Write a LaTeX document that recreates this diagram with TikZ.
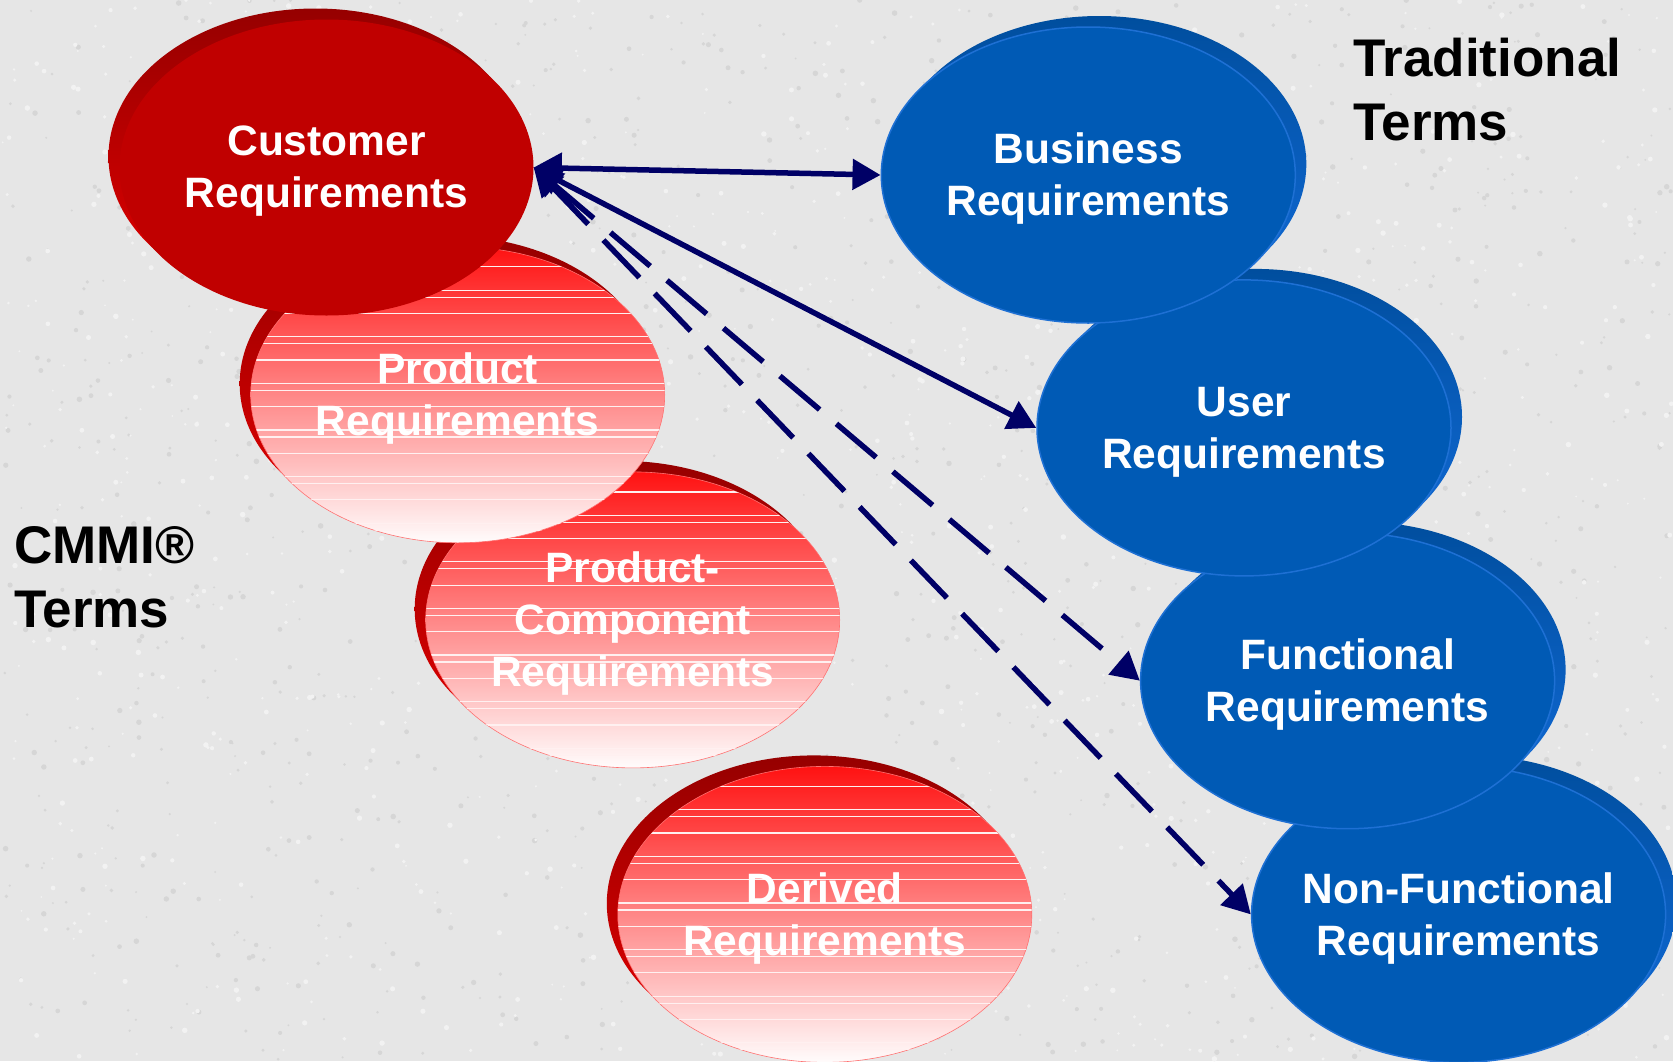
\documentclass[tikz,border=0pt]{standalone}
\usepackage{fontspec}
\setmainfont{Liberation Sans}
\usetikzlibrary{shapes.geometric,arrows.meta}

\definecolor{paper}{RGB}{230,230,230}
\definecolor{speckdark}{RGB}{214,214,214}
\definecolor{specklight}{RGB}{242,242,242}
\definecolor{arrowblue}{RGB}{0,0,102}
\definecolor{custface}{RGB}{192,0,0}
\definecolor{custtop}{RGB}{150,0,0}
\definecolor{custlow}{RGB}{228,0,0}
\definecolor{fadetop}{RGB}{255,18,18}
\definecolor{fadelow}{RGB}{255,252,252}
\definecolor{bandwhite}{RGB}{255,240,240}
\definecolor{blueface}{RGB}{0,90,181}
\definecolor{bluetop}{RGB}{0,78,158}
\definecolor{bluelow}{RGB}{18,108,218}
\definecolor{blueline}{RGB}{30,112,212}

% back rim of a red disc, shifted up and to the left
\newcommand{\redrim}[2]{%
  \shade[top color=custtop, bottom color=custlow] (#1-11,#2-11) ellipse [x radius=207, y radius=148];}
% back rim of a blue disc, shifted up and to the right
\newcommand{\bluerim}[2]{%
  \shade[top color=bluetop, bottom color=bluelow] (#1+11,#2-11) ellipse [x radius=207, y radius=148];}
% pale banding across a faded disc
\newcommand{\bandlines}[2]{%
  \begin{scope}
    \clip (#1,#2) ellipse [x radius=207, y radius=148];
    \foreach \k in {0,...,12}{
      \draw[band] (#1-215,#2-128+23.3*\k) -- (#1+215,#2-128+23.3*\k);
    }
    \foreach \k in {1,3,...,11}{
      \draw[band] (#1-215,#2-121+23.3*\k) -- (#1+215,#2-121+23.3*\k);
    }
  \end{scope}}

\begin{document}
\begin{tikzpicture}[x=1pt,y=-1pt,
  disc/.style={ellipse, minimum width=414pt, minimum height=296pt, inner sep=0pt},
  custdisc/.style={disc, fill=custface},
  fadedisc/.style={disc, top color=fadetop, bottom color=fadelow, draw=fadetop!60, line width=0.6pt},
  bluedisc/.style={disc, fill=blueface, draw=blueline, line width=1.5pt},
  band/.style={bandwhite, line width=1.2pt},
  disctext/.style={white, font=\fontsize{42.5}{52}\selectfont\bfseries, align=center, inner sep=0pt},
  heading/.style={black, font=\fontsize{53}{64}\selectfont\bfseries, align=left, inner sep=0pt, anchor=north west},
  link/.style={arrowblue, line width=5.5pt,
    {Triangle[length=28pt,width=30pt]}-{Triangle[length=28pt,width=30pt]}},
  dashlink/.style={link, dash pattern=on 52pt off 22pt}
]
\useasboundingbox (0,0) rectangle (1673,1061);

% grainy stone backdrop
\fill[paper] (0,0) rectangle (1673,1061);
\pgfmathsetseed{4242}
\foreach \i in {1,...,1300}{
  \pgfmathsetmacro\px{rnd*1673}
  \pgfmathsetmacro\py{rnd*1061}
  \pgfmathsetmacro\pr{1+rnd*1.8}
  \fill[speckdark] (\px,\py) circle [radius=\pr];
}
\foreach \i in {1,...,1100}{
  \pgfmathsetmacro\px{rnd*1673}
  \pgfmathsetmacro\py{rnd*1061}
  \pgfmathsetmacro\pr{1+rnd*1.8}
  \fill[specklight] (\px,\py) circle [radius=\pr];
}

% CMMI column, back to front
\redrim{824.8}{914.4}
\node[fadedisc] (derived) at (824.8,914.4) {};
\bandlines{824.8}{914.4}
\node[disctext] at ([yshift=-4pt]derived.center) {Derived\\Requirements};

\redrim{632.7}{619.9}
\node[fadedisc] (pcomp) at (632.7,619.9) {};
\bandlines{632.7}{619.9}
\node[disctext] at ([yshift=-4pt]pcomp.center) {Product-\\Component\\Requirements};

\redrim{457.7}{394.8}
\node[fadedisc] (product) at (457.7,394.8) {};
\bandlines{457.7}{394.8}
\node[disctext] at ([yshift=-4pt]product.center) {Product\\Requirements};

\redrim{326.5}{167.5}
\node[custdisc] (customer) at (326.5,167.5) {};
\node[disctext] at ([yshift=-4pt]customer.center) {Customer\\Requirements};

% traditional column, back to front
\bluerim{1458.6}{914.4}
\node[bluedisc] (nonfunc) at (1458.6,914.4) {};
\node[disctext] at ([yshift=-4pt]nonfunc.center) {Non-Functional\\Requirements};

\bluerim{1347.6}{680.7}
\node[bluedisc] (func) at (1347.6,680.7) {};
\node[disctext] at ([yshift=-4pt]func.center) {Functional\\Requirements};

\bluerim{1244}{427.9}
\node[bluedisc] (user) at (1244,427.9) {};
\node[disctext] at ([yshift=-4pt]user.center) {User\\Requirements};

\bluerim{1088.3}{175}
\node[bluedisc] (business) at (1088.3,175) {};
\node[disctext] at ([yshift=-4pt]business.center) {Business\\Requirements};

% column headings
\node[heading] (tradhead) at (1353,37.5) {Traditional\\Terms};
\node[heading] (cmmihead) at (14,526) {CMMI®\\Terms};

% correspondences
\draw[dashlink] (customer.east) -- (nonfunc.west);
\draw[dashlink] (customer.east) -- (func.west);
\draw[link] (customer.east) -- (user.west);
\draw[link] (customer.east) -- (business.west);
\end{tikzpicture}
\end{document}
